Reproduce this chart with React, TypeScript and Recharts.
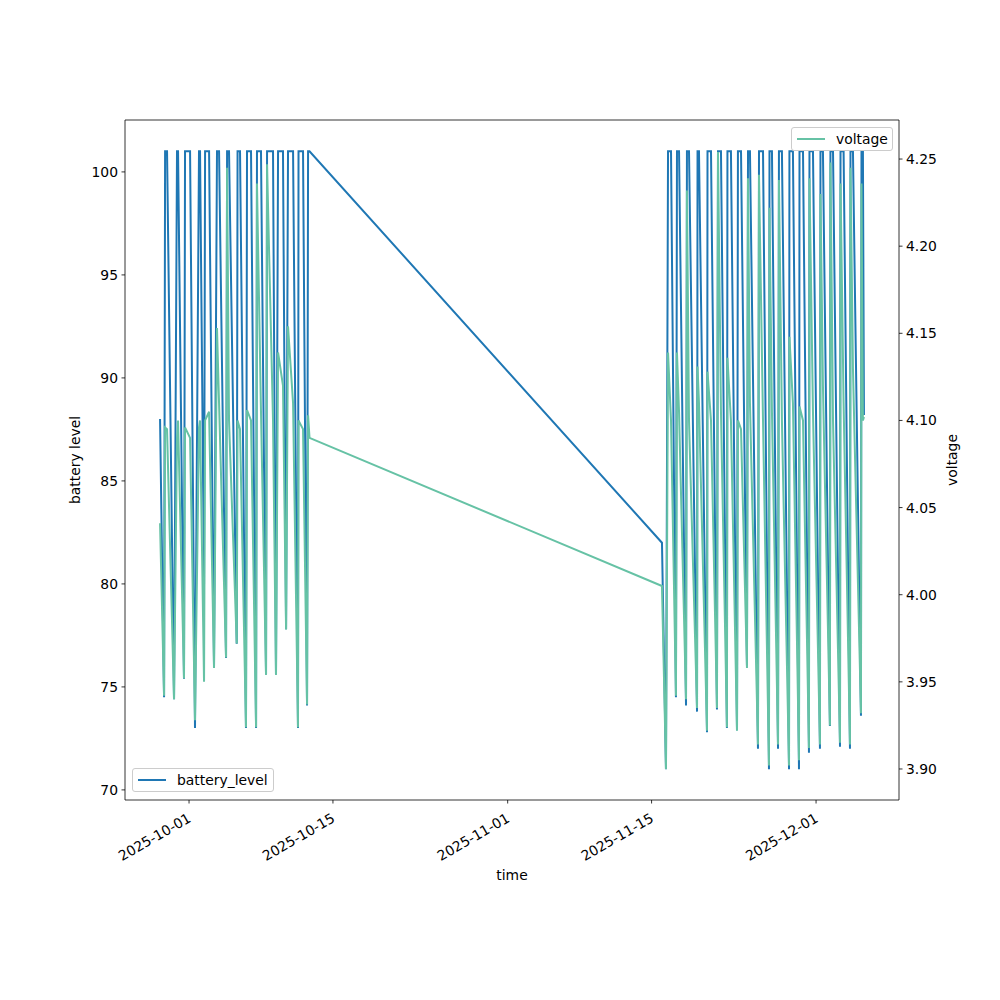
import React from 'react';
import { LineChart, Line, XAxis, YAxis, ReferenceLine } from 'recharts';

// days since 2025-10-01
const dayOffset = [
  -2.82, -2.43, -2.33, -2.14, -1.46, -1.17, -1.07, -0.49, -0.39, 0.1,
  0.58, 0.97, 1.07, 1.46, 1.56, 1.95, 2.43, 2.72, 2.92, 3.6,
  3.7, 3.89, 4.64, 4.72, 4.96, 5.54, 5.64, 6.03, 6.52, 6.61,
  7.0, 7.49, 7.59, 8.17, 8.46, 8.66, 9.14, 9.44, 9.63, 10.12,
  10.6, 10.65, 11.09, 11.48, 11.58, 11.72,
  46.01, 46.4, 46.6, 46.89, 47.37, 47.47, 47.67, 48.35, 48.44, 48.64,
  49.42, 49.47, 49.61, 50.39, 50.44, 50.78, 51.36, 51.46, 51.75, 52.33,
  52.38, 52.72, 53.31, 53.4, 53.7, 54.28, 54.38, 54.57, 55.35, 55.45,
  55.84, 56.42, 56.47, 56.71, 57.3, 57.39, 57.68, 58.37, 58.41, 58.75,
  59.34, 59.39, 59.73, 60.31, 60.36, 60.7, 61.38, 61.43, 61.67, 62.35,
  62.4, 62.65, 63.33, 63.38, 63.68, 64.3, 64.35, 64.59, 65.37, 65.42,
  65.56, 65.66,
];

const batteryLevel = [
  88.0, 74.5, 101, 101, 74.4, 101, 101, 75.4, 101, 101,
  73.0, 101, 101, 80.0, 101, 101, 76.0, 101, 101, 76.4,
  101, 101, 77.1, 101, 101, 73.0, 101, 101, 73.0, 101,
  101, 75.6, 101, 101, 75.6, 101, 101, 77.8, 101, 101,
  73.0, 101, 101, 74.1, 101, 101,
  82.0, 71.0, 101, 101, 74.5, 101, 101, 74.1, 101, 101,
  73.8, 101, 101, 72.8, 101, 101, 73.9, 101, 101, 73.0,
  101, 101, 72.9, 101, 101, 76.0, 101, 101, 72.0, 101,
  101, 71.0, 101, 101, 72.0, 101, 101, 71.0, 101, 101,
  71.0, 101, 101, 71.8, 101, 101, 72.0, 101, 101, 73.1,
  101, 101, 72.1, 101, 101, 72.0, 101, 101, 73.6, 101,
  101, 88.2,
];

const voltage = [
  4.041, 3.942, 4.096, 4.095, 3.94, 4.09, 4.1, 3.952, 4.096, 4.09,
  3.928, 4.096, 4.1, 3.95, 4.1, 4.105, 3.958, 4.153, 4.11, 3.964,
  4.245, 4.1, 3.972, 4.1, 4.095, 3.924, 4.106, 4.1, 3.924, 4.236,
  4.105, 3.954, 4.247, 4.1, 3.954, 4.139, 4.12, 3.98, 4.154, 4.11,
  3.924, 4.1, 4.095, 3.937, 4.103, 4.09,
  4.005, 3.9, 4.139, 4.1, 3.942, 4.139, 4.105, 3.94, 4.232, 4.1,
  3.935, 4.131, 4.11, 3.922, 4.128, 4.1, 3.935, 4.254, 4.105, 3.924,
  4.136, 4.1, 3.922, 4.1, 4.095, 3.958, 4.239, 4.11, 3.914, 4.241,
  4.1, 3.902, 4.222, 4.105, 3.914, 4.238, 4.1, 3.902, 4.148, 4.11,
  3.905, 4.108, 4.1, 3.912, 4.239, 4.105, 3.914, 4.23, 4.12, 3.925,
  4.248, 4.1, 3.915, 4.236, 4.11, 3.914, 4.245, 4.13, 3.932, 4.236,
  4.1, 4.102,
];

const tickDays = [0, 14, 31, 45, 61];
const tickLabels = ['2025-10-01', '2025-10-15', '2025-11-01', '2025-11-15', '2025-12-01'];
const batteryTicks = [70, 75, 80, 85, 90, 95, 100];
const voltageTicks = [3.9, 3.95, 4.0, 4.05, 4.1, 4.15, 4.2, 4.25];

const data = dayOffset.map((t, i) => ({
  t,
  battery_level: batteryLevel[i],
  voltage: voltage[i],
}));

const FONT = 'DejaVu Sans';
const FS = 13.9;
const BLUE = '#1f77b4';
const GREEN = '#66c2a5';
const BATTERY_DOMAIN = [69.51, 102.52];

const DateTick = (props: any) => {
  const { x, y, payload } = props;
  const i = tickDays.indexOf(payload.value);
  const px = x + 3;
  const py = y + 14;
  return (
    <text x={px} y={py} transform={`rotate(-30, ${px}, ${py})`} textAnchor="end"
      fontFamily={FONT} fontSize={FS} fill="#000">
      {tickLabels[i]}
    </text>
  );
};

const LegendBox = ({ left, top, width, color, text }: any) => (
  <div style={{
    position: 'absolute', left, top, width, height: 24, boxSizing: 'border-box',
    border: '1px solid #cccccc', borderRadius: 3, background: 'rgba(255,255,255,0.8)',
    fontFamily: FONT, fontSize: FS, color: '#000',
  }}>
    <div style={{ position: 'absolute', left: 5, top: 10, width: 28, height: 2, background: color }} />
    <div style={{ position: 'absolute', left: 44, top: 2, whiteSpace: 'nowrap', lineHeight: '18px' }}>{text}</div>
  </div>
);

export default function App() {
  return (
    <div style={{ position: 'absolute', left: 0, top: 0, width: 1000, height: 1000, background: '#fff' }}>
      <LineChart width={1000} height={1000} data={data} margin={{ top: 120, right: 0, bottom: 0, left: 0 }}>
        <XAxis
          dataKey="t" type="number" domain={[-6.23, 69.07]} allowDataOverflow
          ticks={tickDays} interval={0} height={200}
          tick={<DateTick />} tickSize={3.5} tickMargin={3.5}
          axisLine={{ stroke: '#000', strokeWidth: 0.8 }} tickLine={{ stroke: '#000', strokeWidth: 0.8 }}
          label={{ value: 'time', position: 'insideBottom', offset: 120, fontFamily: FONT, fontSize: FS, fill: '#000' }}
        />
        <YAxis
          yAxisId="left" orientation="left" width={125} type="number" domain={BATTERY_DOMAIN} allowDataOverflow
          ticks={batteryTicks} interval={0} tickSize={3.5} tickMargin={3.5}
          tick={{ fontFamily: FONT, fontSize: FS, fill: '#000' }}
          axisLine={{ stroke: '#000', strokeWidth: 0.8 }} tickLine={{ stroke: '#000', strokeWidth: 0.8 }}
          label={{ value: 'battery level', angle: -90, position: 'insideLeft', offset: 75, fontFamily: FONT, fontSize: FS, fill: '#000', style: { textAnchor: 'middle' } }}
        />
        <YAxis
          yAxisId="right" orientation="right" width={101} type="number" domain={[3.8822, 4.2724]} allowDataOverflow
          ticks={voltageTicks} interval={0} tickSize={3.5} tickMargin={3.5}
          tickFormatter={(v: number) => v.toFixed(2)}
          tick={{ fontFamily: FONT, fontSize: FS, fill: '#000' }}
          axisLine={{ stroke: '#000', strokeWidth: 0.8 }} tickLine={{ stroke: '#000', strokeWidth: 0.8 }}
          label={{ value: 'voltage', angle: -90, position: 'insideRight', offset: 48, fontFamily: FONT, fontSize: FS, fill: '#000', style: { textAnchor: 'middle' } }}
        />
        {/* top spine */}
        <ReferenceLine yAxisId="left" y={BATTERY_DOMAIN[1]} stroke="#000" strokeWidth={0.8} ifOverflow="visible" />
        <Line yAxisId="left" type="linear" dataKey="battery_level" stroke={BLUE} strokeWidth={2}
          dot={false} isAnimationActive={false} />
        <Line yAxisId="right" type="linear" dataKey="voltage" stroke={GREEN} strokeWidth={2}
          dot={false} isAnimationActive={false} />
      </LineChart>
      <LegendBox left={132} top={768} width={142} color={BLUE} text="battery_level" />
      <LegendBox left={791} top={127} width={102} color={GREEN} text="voltage" />
    </div>
  );
}
